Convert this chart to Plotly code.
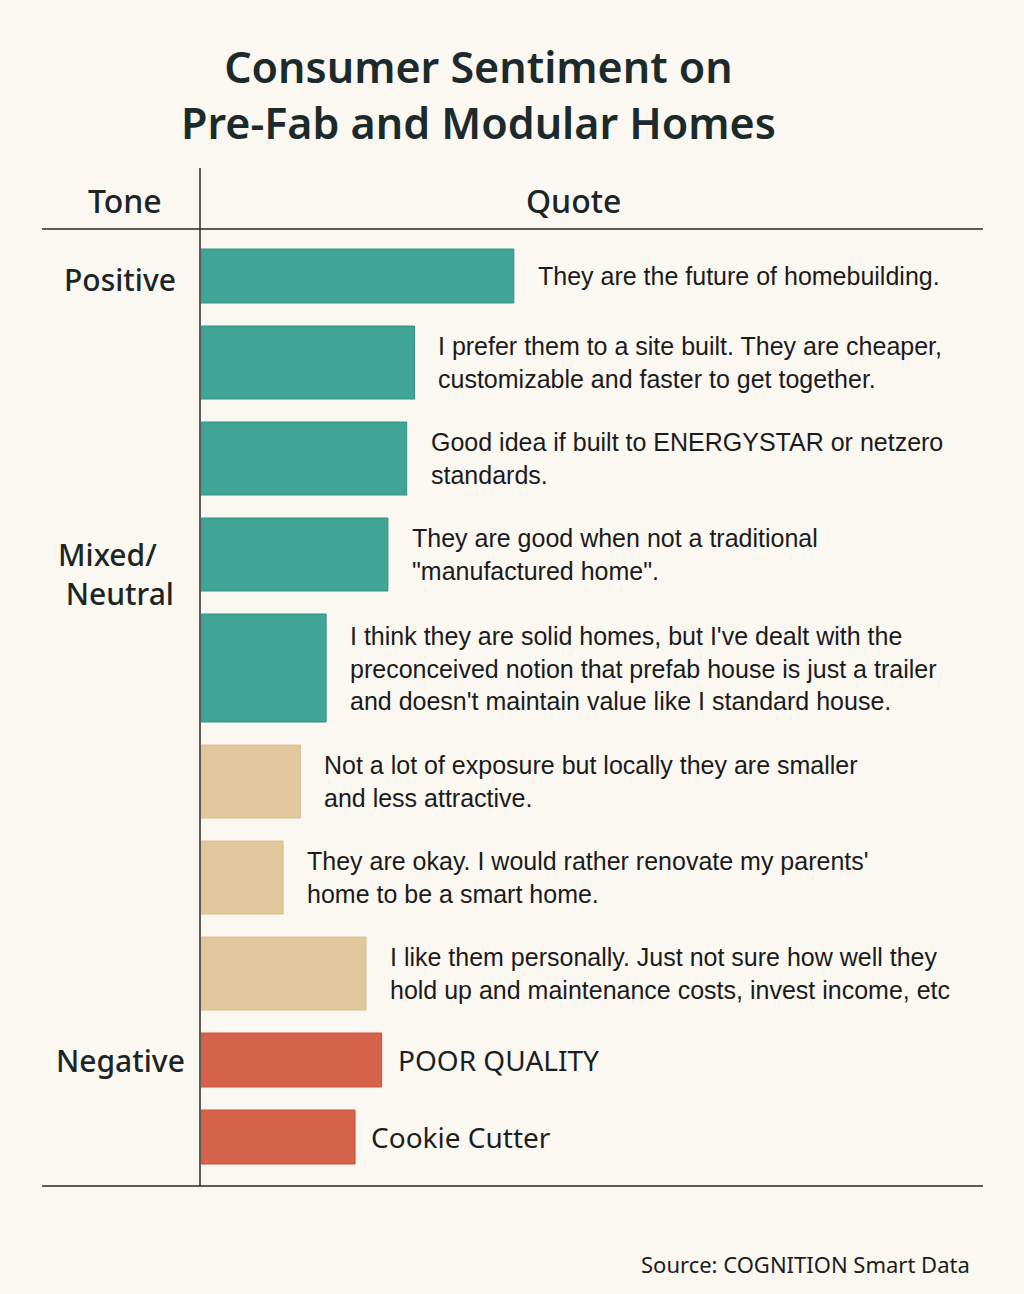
import plotly.graph_objects as go

# Data
quotes = [
    "They are the future of homebuilding.",
    "I prefer them to a site built. They are cheaper,<br>customizable and faster to get together.",
    "Good idea if built to ENERGYSTAR or netzero<br>standards.",
    "They are good when not a traditional<br>\"manufactured home\".",
    "I think they are solid homes, but I've dealt with the<br>preconceived notion that prefab house is just a trailer<br>and doesn't maintain value like I standard house.",
    "Not a lot of exposure but locally they are smaller<br>and less attractive.",
    "They are okay. I would rather renovate my parents'<br>home to be a smart home.",
    "I like them personally. Just not sure how well they<br>hold up and maintenance costs, invest income, etc",
    "POOR QUALITY",
    "Cookie Cutter",
]
tones = ["Positive"] * 5 + ["Mixed/Neutral"] * 3 + ["Negative"] * 2
scores = [40.0, 27.3, 26.3, 23.9, 16.0, 12.7, 10.5, 21.1, 23.1, 19.7]

tone_colors = {"Positive": "#40A497", "Mixed/Neutral": "#E2C99D", "Negative": "#D5634C"}
tone_edges = {"Positive": "#2E9284", "Mixed/Neutral": "#D9BC8A", "Negative": "#C9503A"}

# layout helpers (pixels of a 1024x1294 page)
W, H = 1024, 1294
top_line, bottom_line = 229, 1186
thick = {1: 54, 2: 73, 3: 108}
gap = 23

def px_x(p):
    return p / W

def px_y(p):
    return 1 - p / H

# bar centres / thickness in the y-axis units (pixels below the header line)
centers, widths = [], []
pos = 20
for q in quotes:
    t = thick[q.count("<br>") + 1]
    centers.append(pos + t / 2)
    widths.append(t)
    pos += t + gap

fig = go.Figure()
fig.add_trace(go.Bar(
    x=scores, y=centers, width=widths, orientation="h",
    marker_color=[tone_colors[t] for t in tones],
    marker_line_color=[tone_edges[t] for t in tones],
    marker_line_width=1,
    hovertext=quotes, hoverinfo="text",
))

# quotes next to bars
for s, c, q, t in zip(scores, centers, quotes, tones):
    if t == "Negative":
        font = dict(family="Noto Sans", size=28, color="#1b1f1f")
        shift = 14
    else:
        font = dict(family="Liberation Sans, Arial", size=25, color="#1b1b1b")
        shift = 22
    fig.add_annotation(x=s, y=c, xref="x", yref="y", text=q, showarrow=False,
                       xanchor="left", yanchor="middle", align="left",
                       xshift=shift, font=font)

head_font = dict(family="Noto Sans", size=32, color="#1c2526", weight=500)
fig.add_annotation(x=px_x(125), y=px_y(200), xref="paper", yref="paper", text="Tone",
                   showarrow=False, font=head_font, xanchor="center", yanchor="middle")
fig.add_annotation(x=px_x(573), y=px_y(200), xref="paper", yref="paper", text="Quote",
                   showarrow=False, font=head_font, xanchor="center", yanchor="middle")

tone_font = dict(family="Noto Sans", size=30, color="#1c2526", weight=500)
fig.add_annotation(x=px_x(120), y=px_y(279), xref="paper", yref="paper", text="Positive",
                   showarrow=False, font=tone_font, xanchor="center", yanchor="middle")
fig.add_annotation(x=px_x(56), y=px_y(574), xref="paper", yref="paper",
                   text="Mixed/<br> Neutral", showarrow=False, font=tone_font,
                   xanchor="left", yanchor="middle", align="left")
fig.add_annotation(x=px_x(120), y=px_y(1060), xref="paper", yref="paper", text="Negative",
                   showarrow=False, font=tone_font, xanchor="center", yanchor="middle")

# title and source
fig.add_annotation(x=px_x(478), y=px_y(95), xref="paper", yref="paper",
                   text="Consumer Sentiment on<br>Pre-Fab and Modular Homes",
                   showarrow=False, xanchor="center", yanchor="middle",
                   font=dict(family="Noto Sans", size=43, color="#1c2a2b", weight=600))
fig.add_annotation(x=px_x(972), y=px_y(1264), xref="paper", yref="paper",
                   text="Source: COGNITION Smart Data", showarrow=False,
                   xanchor="right", yanchor="middle",
                   font=dict(family="Noto Sans", size=22, color="#1c1c1c"))

# table rules
line = dict(color="#2a2a2a", width=1.5)
fig.add_shape(type="line", xref="paper", yref="paper", x0=px_x(42), x1=px_x(983),
              y0=px_y(top_line), y1=px_y(top_line), line=line)
fig.add_shape(type="line", xref="paper", yref="paper", x0=px_x(42), x1=px_x(983),
              y0=px_y(bottom_line), y1=px_y(bottom_line), line=line)
fig.add_shape(type="line", xref="paper", yref="paper", x0=px_x(200), x1=px_x(200),
              y0=px_y(168), y1=px_y(bottom_line), line=line)

fig.update_layout(
    width=W, height=H,
    margin=dict(l=0, r=0, t=0, b=0),
    paper_bgcolor="#FBF7F1", plot_bgcolor="#FBF7F1",
    showlegend=False,
    xaxis=dict(domain=[px_x(201), px_x(983)], range=[0, 100], visible=False),
    yaxis=dict(domain=[px_y(bottom_line), px_y(top_line)],
               range=[bottom_line - top_line, 0], visible=False),
)

fig.write_html("out.html", config={"displayModeBar": False},
               post_script="document.body.style.margin='0px';")
